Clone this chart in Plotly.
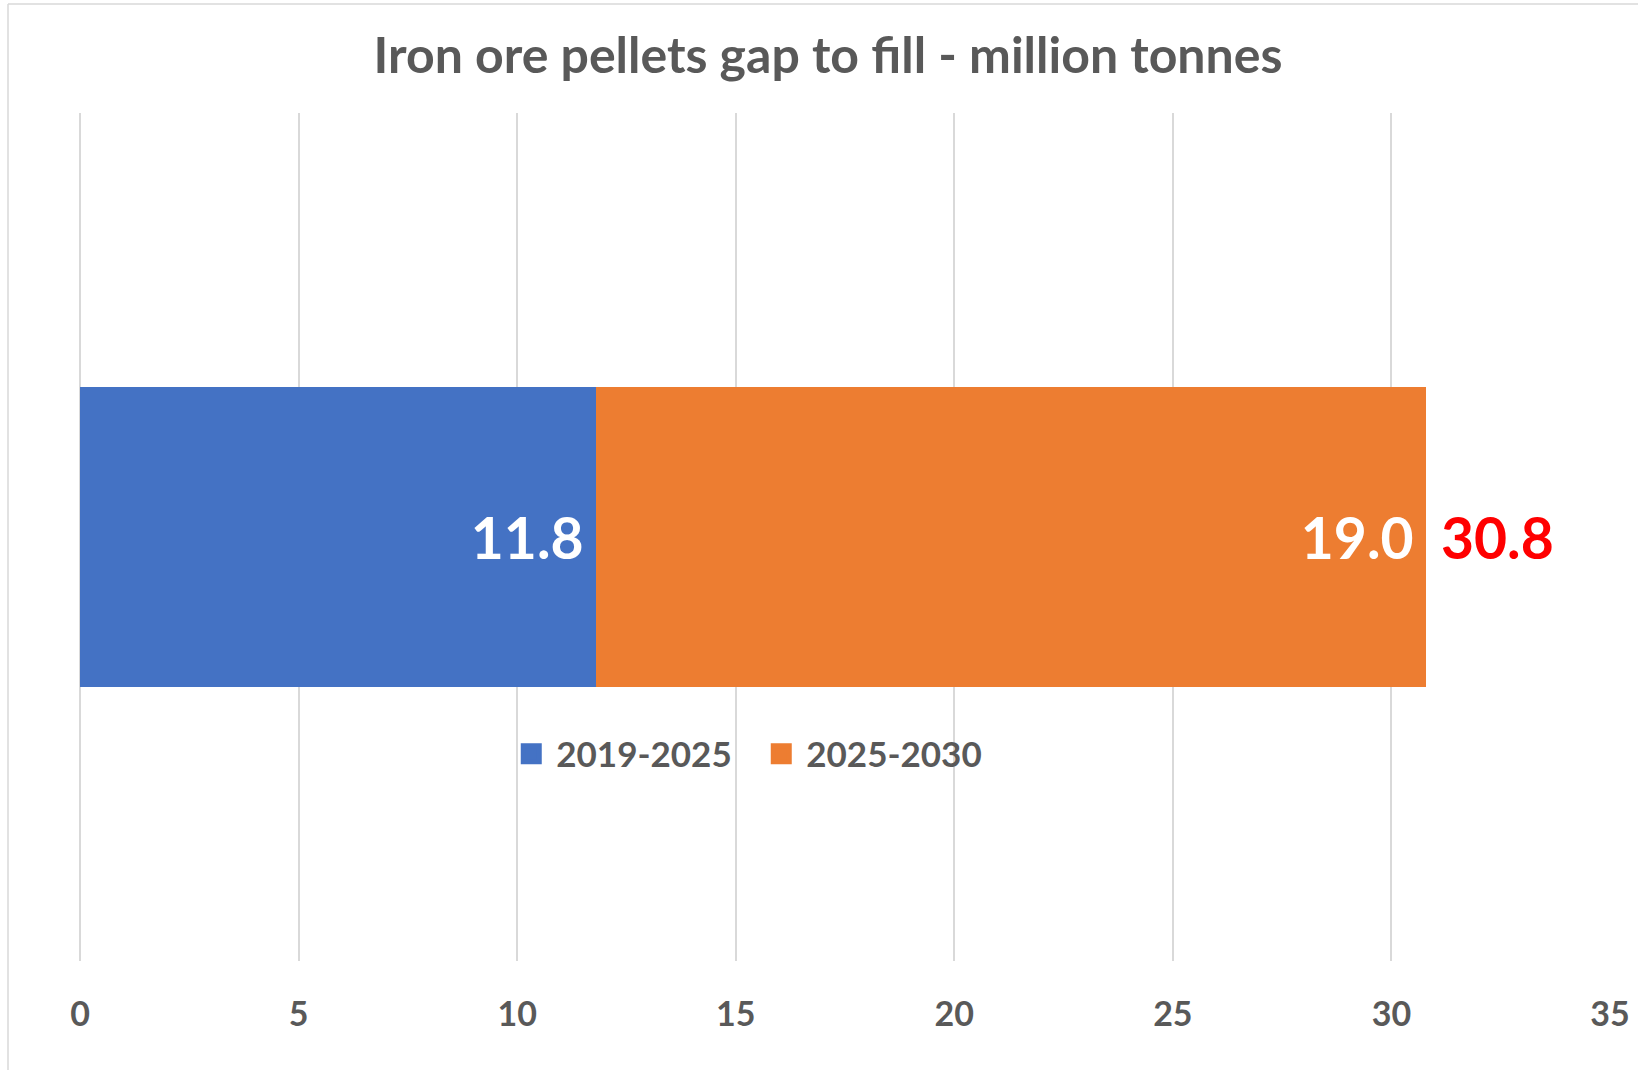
import plotly.graph_objects as go

# data
category = ["Pellets"]
periods = ["2019-2025", "2025-2030"]
values = [[11.8], [19.0]]
colors = ["#4472C4", "#ED7D31"]
total = [round(values[0][0] + values[1][0], 1)]

grey = "#595959"
font_fam = "Lato, Open Sans, sans-serif"

fig = go.Figure()
for name, vals, col in zip(periods, values, colors):
    fig.add_trace(go.Bar(
        y=category,
        x=vals,
        name=name,
        orientation="h",
        marker=dict(color=col, line=dict(width=0)),
        width=0.354,
        text=[f"<b>{v:.1f}</b>\u2006" for v in vals],
        textposition="inside",
        insidetextanchor="end",
        textfont=dict(color="white", size=57, family=font_fam),
        showlegend=False,
    ))
    # legend entry with a bigger square swatch
    fig.add_trace(go.Scatter(
        x=[None], y=[None], mode="markers", name=f"<b>{name}</b>",
        marker=dict(symbol="square", size=16, color=col,
                    line=dict(color=col, width=5)),
    ))

# total label beyond the bar end
fig.add_annotation(
    x=total[0], y=category[0], text=f"<b>{total[0]:.1f}</b>",
    xanchor="left", showarrow=False, xshift=13,
    font=dict(color="#FF0000", size=57, family=font_fam),
)

fig.update_layout(
    barmode="stack",
    width=1638, height=1070,
    margin=dict(l=80, r=28, t=113, b=109),
    paper_bgcolor="white", plot_bgcolor="white",
    font=dict(family=font_fam, color=grey),
    title=dict(
        text="<b>Iron ore pellets gap to fill - million tonnes</b>",
        x=0.5055, xref="container", xanchor="center",
        y=1 - 55 / 1070, yref="container", yanchor="middle",
        font=dict(size=50, color=grey, family=font_fam),
    ),
    legend=dict(
        orientation="h", x=0.442, xanchor="center", y=0.244, yanchor="middle",
        font=dict(size=35, color=grey, family=font_fam),
        itemwidth=40, entrywidth=195, traceorder="normal",
        bgcolor="rgba(0,0,0,0)",
    ),
    bargap=0,
)

fig.update_xaxes(
    range=[0, 35], dtick=5, tick0=0, automargin=False,
    showgrid=True, gridcolor="#D9D9D9", gridwidth=1.5,
    zeroline=True, zerolinecolor="#D9D9D9", zerolinewidth=1.5,
    showline=False, ticks="",
    tickfont=dict(size=34, color=grey, family=font_fam),
    tickprefix="<b>", ticksuffix="</b>",
    ticklabelstandoff=30,
)
fig.update_yaxes(showticklabels=False, showgrid=False, zeroline=False,
                 range=[-0.5, 0.5], automargin=False)

# chart frame (top and left edges only visible)
top = 1 + (113 - 4) / 848
left = (8 - 80) / 1530
fig.add_shape(type="line", xref="paper", yref="paper",
              x0=left, x1=1.05, y0=top, y1=top,
              line=dict(color="#D9D9D9", width=1.5))
fig.add_shape(type="line", xref="paper", yref="paper",
              x0=left, x1=left, y0=-0.2, y1=top,
              line=dict(color="#D9D9D9", width=1.5))

fig.write_html("out.html", config={"displayModeBar": False},
               post_script="document.body.style.margin='0px';")
